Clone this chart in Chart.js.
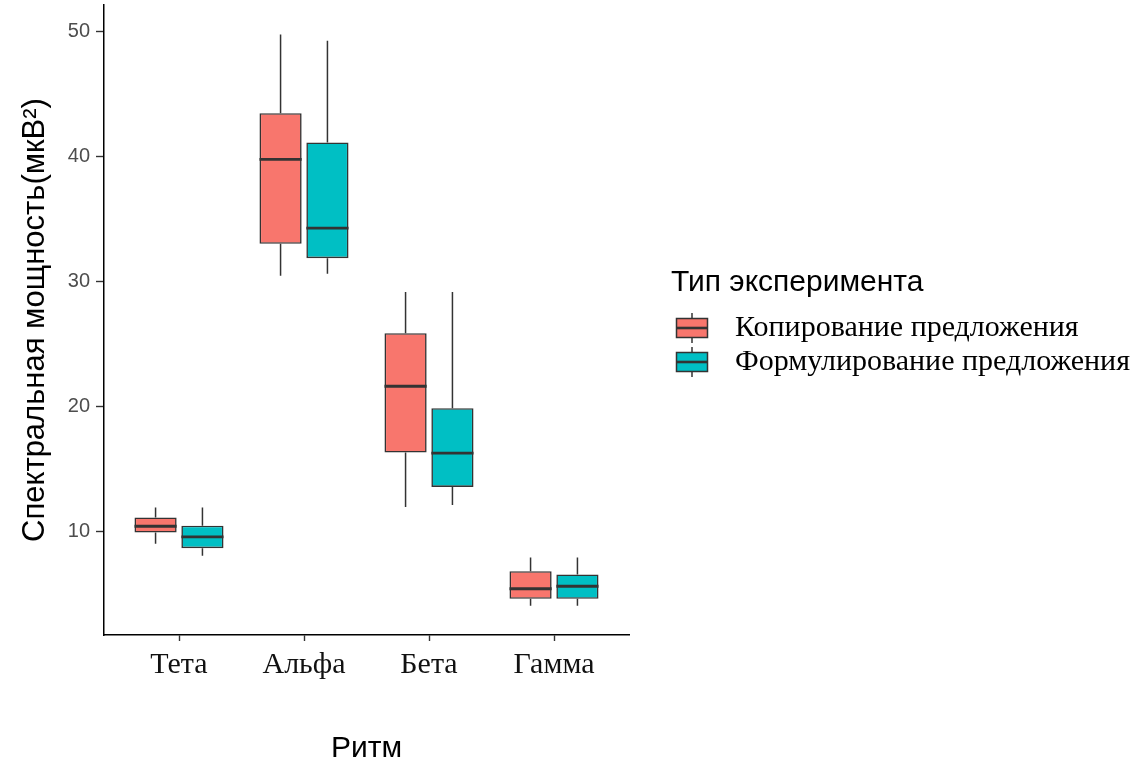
<!DOCTYPE html>
<html>
<head>
<meta charset="utf-8">
<script src="https://cdn.jsdelivr.net/npm/chart.js@4.4.1/dist/chart.umd.min.js"></script>
<style>
  html, body { margin: 0; padding: 0; background: #ffffff; }
  #wrap { width: 1134px; height: 764px; }
</style>
</head>
<body>
<div id="wrap"><canvas id="chart" width="1134" height="764"></canvas></div>
<script>
// Rhythms along the x axis and the two experiment types
const rhythms = ['Тета', 'Альфа', 'Бета', 'Гамма'];
const groups = ['Копирование предложения', 'Формулирование предложения'];
const groupColors = ['#F8766D', '#00BFC4'];

// Box-plot statistics, one value per rhythm (мкВ²)
const copyLow    = [9.05, 30.5, 12.0, 4.1];
const copyQ1     = [9.95, 33.05, 16.35, 4.65];
const copyMedian = [10.45, 39.8, 21.65, 5.45];
const copyQ3     = [11.15, 43.5, 25.9, 6.85];
const copyHigh   = [11.95, 49.8, 29.2, 7.95];

const formLow    = [8.1, 30.65, 12.15, 4.1];
const formQ1     = [8.7, 31.9, 13.6, 4.65];
const formMedian = [9.6, 34.3, 16.3, 5.65];
const formQ3     = [10.5, 41.15, 19.9, 6.6];
const formHigh   = [11.95, 49.3, 29.2, 7.95];

const yTicks = [10, 20, 30, 40, 50];

const stats = [
  { low: copyLow, q1: copyQ1, median: copyMedian, q3: copyQ3, high: copyHigh },
  { low: formLow, q1: formQ1, median: formMedian, q3: formQ3, high: formHigh }
];

// Layout constants
const W = 1134, H = 764;
const PLOT_LEFT = 104, PLOT_RIGHT = 629, PLOT_TOP = 5, PLOT_BOTTOM = 635;
const LEGEND_LEFT = 671;
const LABEL_FS = 30, ITEM_PAD = 4, TEXT_X = 735;
const KEY_GLYPH_X = 692;
const POINT_W = TEXT_X - (LEGEND_LEFT + ITEM_PAD) - LABEL_FS / 2;
const KEY_SHIFT = KEY_GLYPH_X - (LEGEND_LEFT + ITEM_PAD + POINT_W / 2);
const OUTLINE = '#333333';

function makeKey(color) {
  const kw = 2 * (Math.abs(KEY_SHIFT) + 18), kh = 32;
  const c = document.createElement('canvas');
  c.width = kw; c.height = kh;
  const g = c.getContext('2d');
  const cx = Math.round(kw / 2 + KEY_SHIFT), cy = kh / 2;
  g.strokeStyle = OUTLINE;
  g.lineWidth = 1.5;
  g.beginPath(); g.moveTo(cx, 1); g.lineTo(cx, kh - 1); g.stroke();
  g.fillStyle = color;
  g.fillRect(cx - 15.5, cy - 9.5, 31, 19);
  g.strokeRect(cx - 15.5, cy - 9.5, 31, 19);
  g.lineWidth = 2.6;
  g.beginPath(); g.moveTo(cx - 15.5, cy); g.lineTo(cx + 15.5, cy); g.stroke();
  return c;
}
const keyImages = groupColors.map(makeKey);

// Whiskers behind the boxes, medians on top of them
const boxWhiskers = {
  id: 'boxWhiskers',
  beforeDatasetsDraw(chart) {
    const y = chart.scales.y, ctx = chart.ctx;
    ctx.save();
    ctx.strokeStyle = OUTLINE;
    ctx.lineWidth = 1.5;
    chart.data.datasets.forEach((ds, di) => {
      const meta = chart.getDatasetMeta(di);
      meta.data.forEach((bar, i) => {
        ctx.beginPath();
        ctx.moveTo(bar.x, y.getPixelForValue(stats[di].high[i]));
        ctx.lineTo(bar.x, y.getPixelForValue(stats[di].q3[i]));
        ctx.moveTo(bar.x, y.getPixelForValue(stats[di].q1[i]));
        ctx.lineTo(bar.x, y.getPixelForValue(stats[di].low[i]));
        ctx.stroke();
      });
    });
    ctx.restore();
  },
  afterDatasetsDraw(chart) {
    const y = chart.scales.y, ctx = chart.ctx;
    ctx.save();
    ctx.strokeStyle = OUTLINE;
    ctx.lineWidth = 2.8;
    chart.data.datasets.forEach((ds, di) => {
      const meta = chart.getDatasetMeta(di);
      meta.data.forEach((bar, i) => {
        const py = y.getPixelForValue(stats[di].median[i]);
        ctx.beginPath();
        ctx.moveTo(bar.x - bar.width / 2, py);
        ctx.lineTo(bar.x + bar.width / 2, py);
        ctx.stroke();
      });
    });
    ctx.restore();
  }
};

const datasets = groups.map((name, di) => ({
  label: name,
  data: rhythms.map((r, i) => ({ x: i + 1, y: [stats[di].q1[i], stats[di].q3[i]] })),
  backgroundColor: groupColors[di],
  borderColor: OUTLINE,
  borderWidth: 1.6,
  borderSkipped: false,
  categoryPercentage: 0.75,
  barPercentage: 0.9
}));

new Chart(document.getElementById('chart'), {
  type: 'bar',
  data: { datasets },
  plugins: [boxWhiskers],
  options: {
    responsive: false,
    animation: false,
    events: [],
    layout: { padding: { left: 0, right: 0, top: PLOT_TOP, bottom: 0 } },
    plugins: {
      tooltip: { enabled: false },
      legend: {
        display: true,
        position: 'right',
        align: 'start',
        maxWidth: W - LEGEND_LEFT,
        title: {
          display: true,
          text: 'Тип эксперимента',
          position: 'start',
          color: '#000000',
          font: { family: 'Liberation Sans', size: 30 },
          padding: { top: 263, bottom: 5 }
        },
        labels: {
          usePointStyle: true,
          pointStyleWidth: POINT_W,
          padding: ITEM_PAD,
          color: '#000000',
          font: { family: 'Liberation Serif', size: LABEL_FS },
          generateLabels: () => groups.map((g, i) => ({
            text: g,
            datasetIndex: i,
            pointStyle: keyImages[i],
            fillStyle: groupColors[i],
            strokeStyle: OUTLINE,
            fontColor: '#000000',
            lineWidth: 0,
            hidden: false
          }))
        }
      }
    },
    scales: {
      x: {
        type: 'linear',
        min: 0.4,
        max: 4.6,
        offset: false,
        afterBuildTicks: s => { s.ticks = rhythms.map((r, i) => ({ value: i + 1 })); },
        afterFit: s => { s.height = H - PLOT_BOTTOM; s.paddingLeft = 0; s.paddingRight = 0; },
        ticks: {
          callback: v => rhythms[v - 1] || '',
          color: '#111111',
          font: { family: 'Liberation Serif', size: 30 },
          padding: 6,
          maxRotation: 0,
          autoSkip: false
        },
        grid: { display: true, offset: false, drawOnChartArea: false, drawTicks: true, tickLength: 6, tickColor: OUTLINE, tickWidth: 1.4 },
        border: { display: true, color: '#000000', width: 1.5 },
        title: {
          display: true,
          text: 'Ритм',
          color: '#000000',
          font: { family: 'Liberation Sans', size: 30, lineHeight: 1 },
          padding: { top: 0, bottom: 0 }
        }
      },
      y: {
        type: 'linear',
        min: 1.75,
        max: 52.15,
        afterBuildTicks: s => { s.ticks = yTicks.map(v => ({ value: v })); },
        afterFit: s => { s.width = PLOT_LEFT; s.paddingTop = 0; s.paddingBottom = 0; },
        ticks: {
          color: '#4d4d4d',
          font: { family: 'Liberation Sans', size: 20 },
          padding: 6
        },
        grid: { display: true, drawOnChartArea: false, drawTicks: true, tickLength: 8, tickColor: OUTLINE, tickWidth: 1.4 },
        border: { display: true, color: '#000000', width: 1.5 },
        title: {
          display: true,
          text: 'Спектральная мощность(мкВ²)',
          color: '#000000',
          font: { family: 'Liberation Sans', size: 31 },
          padding: { top: 17, bottom: 0 }
        }
      },
      spacer: {
        type: 'linear',
        position: 'right',
        display: true,
        afterFit: s => { s.width = LEGEND_LEFT - PLOT_RIGHT; s.paddingTop = 0; s.paddingBottom = 0; },
        ticks: { display: false },
        grid: { display: false },
        border: { display: false }
      }
    }
  }
});
</script>
</body>
</html>
